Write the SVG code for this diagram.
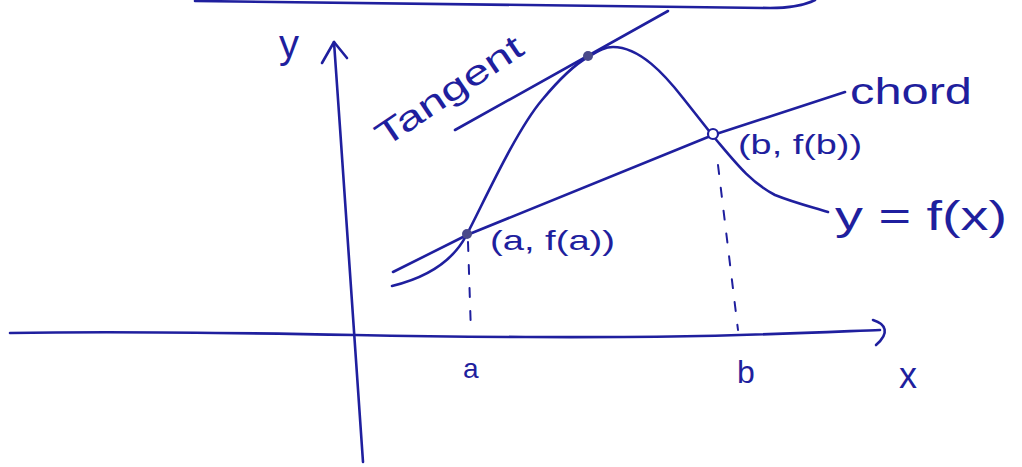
<svg xmlns="http://www.w3.org/2000/svg" width="1022" height="467" viewBox="0 0 1022 467">
<style>
.ink{fill:none;stroke:#1f1f9e;stroke-width:2.6;stroke-linecap:round;stroke-linejoin:round}
.dash{fill:none;stroke:#1f1f9e;stroke-width:2;stroke-linecap:round;stroke-dasharray:9 14}
.lbl{fill:#1f1f9e;font-family:"Liberation Sans","DejaVu Sans",sans-serif}
</style>
<rect width="1022" height="467" fill="#ffffff"/>
<g id="top-edge">
<path class="ink" d="M195,1 C400,3 600,5 770,8 C790,8 805,5 815,0"/>
</g>
<g id="axes">
<path class="ink" d="M10,333 C120,331 250,333 355,335 C450,337 600,338 700,336 C790,334 850,331 880,330"/>
<path class="ink" d="M873,320 C886,324 890,333 876,345"/>
<path class="ink" d="M363,462 C358,380 345,200 334,42"/>
<path class="ink" d="M322,63 L334,42 L347,58"/>
</g>
<g id="connectors">
<path class="ink" d="M455,130 L668,11"/>
<path class="ink" d="M393,272 L467,235 L713,135 L845,92"/>
<path class="dash" d="M468,242 L471,333"/>
<path class="dash" d="M718,165 L738,330"/>
</g>
<g id="curve">
<path class="ink" d="M392,286 C425,278 452,262 466,236 C482,206 515,132 542,100 C557,82 572,66 588,57 C600,50 605,47 613,47 C640,47 665,75 683,98 C698,117 705,126 713,136 C735,162 750,182 775,195 C795,203 812,207 828,212"/>
</g>
<g id="points">
<circle cx="467" cy="234" r="5" fill="#4a4a8a"/>
<circle cx="588" cy="56" r="5" fill="#4a4a8a"/>
<circle cx="713" cy="134" r="5" fill="#ffffff" stroke="#1f1f9e" stroke-width="2.2"/>
</g>
<g id="labels">
<text class="lbl" x="279" y="58" font-size="40">y</text>
<text class="lbl" x="0" y="0" font-size="34" textLength="170" lengthAdjust="spacingAndGlyphs" transform="translate(385,148) rotate(-34)">Tangent</text>
<text class="lbl" x="850" y="104" font-size="36" textLength="122" lengthAdjust="spacingAndGlyphs">chord</text>
<text class="lbl" x="738" y="154" font-size="28" textLength="124" lengthAdjust="spacingAndGlyphs">(b, f(b))</text>
<text class="lbl" x="490" y="250" font-size="28" textLength="125" lengthAdjust="spacingAndGlyphs">(a, f(a))</text>
<text class="lbl" x="835" y="230" font-size="40" textLength="172" lengthAdjust="spacingAndGlyphs">y = f(x)</text>
<text class="lbl" x="463" y="378" font-size="28">a</text>
<text class="lbl" x="737" y="383" font-size="32">b</text>
<text class="lbl" x="899" y="388" font-size="36">x</text>
</g>
</svg>
